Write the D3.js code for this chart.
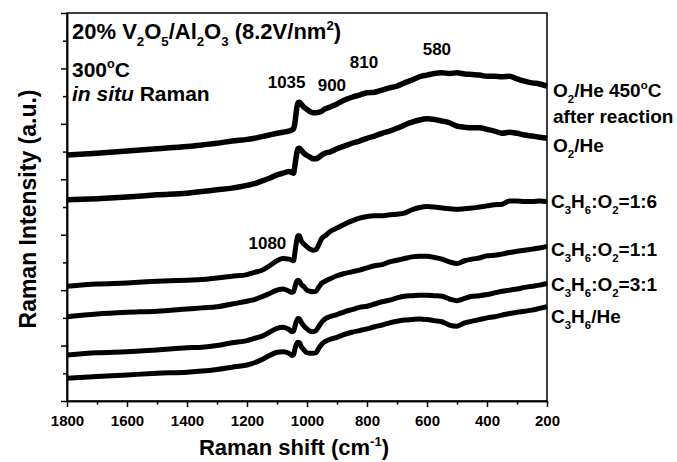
<!DOCTYPE html>
<html><head><meta charset="utf-8">
<script src="https://cdn.jsdelivr.net/npm/d3@7/dist/d3.min.js"></script>
<style>
body{margin:0;background:#fff}
text{font-family:"Liberation Sans",Arial,sans-serif;font-weight:bold;fill:#000;white-space:pre}
</style>
</head><body>
<svg id="chart" width="677" height="462"></svg>
<script>
// Raman shift grid (cm-1)
const shifts=[1800,1700,1600,1500,1400,1350,1300,1250,1200,1175,1150,1125,1100,1080,1060,1050,1045,1040,1035,1030,1025,1020,1010,1000,990,980,970,960,950,940,925,900,875,850,825,800,775,750,725,700,675,650,625,600,575,550,525,500,475,450,425,400,375,350,325,300,275,250,225,200];

// Intensities (a.u., offset stacked)
const o2He450=[4.44,4.47,4.51,4.55,4.59,4.62,4.65,4.69,4.72,4.74,4.77,4.80,4.83,4.85,4.87,4.89,4.91,5.03,5.25,5.38,5.39,5.36,5.30,5.26,5.22,5.20,5.20,5.21,5.23,5.27,5.30,5.36,5.43,5.48,5.52,5.56,5.57,5.61,5.65,5.68,5.74,5.79,5.85,5.88,5.91,5.92,5.91,5.92,5.90,5.89,5.88,5.86,5.86,5.85,5.86,5.81,5.77,5.74,5.72,5.68];
const o2He=[3.63,3.65,3.68,3.72,3.75,3.78,3.81,3.84,3.89,3.92,3.97,4.02,4.08,4.11,4.14,4.12,4.11,4.26,4.44,4.55,4.56,4.53,4.47,4.43,4.40,4.37,4.37,4.40,4.44,4.47,4.49,4.55,4.60,4.65,4.69,4.74,4.78,4.83,4.87,4.92,4.98,5.03,5.07,5.09,5.08,5.05,5.02,4.96,4.94,4.93,4.93,4.90,4.87,4.83,4.85,4.83,4.80,4.78,4.76,4.74];
const c3h6o2_16=[2.07,2.11,2.13,2.16,2.18,2.19,2.22,2.25,2.28,2.32,2.36,2.44,2.53,2.57,2.56,2.54,2.53,2.69,2.87,2.98,2.98,2.90,2.83,2.78,2.74,2.72,2.73,2.83,2.94,2.98,3.05,3.12,3.19,3.25,3.30,3.33,3.34,3.34,3.36,3.37,3.39,3.45,3.49,3.51,3.50,3.48,3.47,3.46,3.47,3.48,3.50,3.52,3.54,3.55,3.61,3.61,3.60,3.60,3.61,3.60];
const c3h6o2_11=[1.52,1.57,1.60,1.62,1.66,1.68,1.70,1.75,1.80,1.83,1.88,1.94,2.00,2.02,1.98,1.96,1.97,2.06,2.15,2.18,2.16,2.11,2.06,2.00,1.98,1.97,1.98,2.06,2.13,2.16,2.20,2.26,2.30,2.33,2.36,2.40,2.44,2.46,2.51,2.54,2.57,2.60,2.61,2.61,2.59,2.56,2.51,2.48,2.53,2.56,2.58,2.62,2.63,2.65,2.68,2.70,2.72,2.74,2.76,2.79];
const c3h6o2_31=[0.83,0.87,0.89,0.92,0.96,0.97,1.00,1.05,1.09,1.13,1.17,1.24,1.31,1.33,1.29,1.25,1.26,1.35,1.44,1.49,1.48,1.43,1.35,1.30,1.26,1.25,1.27,1.35,1.43,1.48,1.52,1.56,1.61,1.65,1.69,1.71,1.75,1.79,1.82,1.86,1.89,1.90,1.91,1.91,1.90,1.89,1.84,1.81,1.85,1.89,1.90,1.92,1.95,1.98,2.00,2.02,2.05,2.07,2.09,2.12];
const c3h6He=[0.41,0.44,0.47,0.50,0.52,0.54,0.57,0.61,0.65,0.69,0.75,0.82,0.88,0.89,0.86,0.82,0.83,0.94,1.03,1.06,1.05,0.99,0.92,0.87,0.86,0.86,0.87,0.96,1.03,1.07,1.11,1.15,1.20,1.24,1.27,1.30,1.34,1.37,1.41,1.44,1.46,1.47,1.48,1.47,1.45,1.43,1.37,1.35,1.41,1.44,1.47,1.50,1.52,1.55,1.58,1.60,1.62,1.64,1.67,1.70];

const xMajor=[1800,1600,1400,1200,1000,800,600,400,200];
const xMinor=[1700,1500,1300,1100,900,700,500,300];
const yMajor=[0,1,2,3,4,5,6,7];
const yMinor=[0.5,1.5,2.5,3.5,4.5,5.5,6.5];
const peakLabels=[["1035",1068,5.64],["900",917,5.6],["810",810,6.0],["580",567,6.24],["1080",1132,2.74]];

const W=677,H=462,M={l:67,r:130,t:13,b:61};
const svg=d3.select("#chart");
const x=d3.scaleLinear().domain([1800,200]).range([M.l,W-M.r]);
const y=d3.scaleLinear().domain([0,7]).range([H-M.b,M.t]);

function rich(g,px,py,parts,size,anchor){
  const t=g.append("text").attr("x",px).attr("y",py).attr("font-size",size).attr("text-anchor",anchor||"start");
  let cur=0;
  parts.forEach(([s,k])=>{
    const target=k==="sub"?size*0.32:k==="sup"?-size*0.42:0;
    const ts=t.append("tspan").text(s).attr("dy",target-cur);
    cur=target;
    if(k==="sub"||k==="sup")ts.attr("font-size",size*0.6);
    if(k==="it")ts.attr("font-style","italic");
  });
  return t;
}

// curves
const line=d3.line().x((d,i)=>x(shifts[i])).y(d=>y(d)).curve(d3.curveMonotoneX);
const series=[[o2He450,5.5],[o2He,5.5],[c3h6o2_16,5],[c3h6o2_11,5],[c3h6o2_31,5],[c3h6He,5]];
series.forEach(([vals,sw])=>{
  svg.append("path").datum(vals).attr("d",line).attr("fill","none").attr("stroke","#000")
    .attr("stroke-width",sw).attr("stroke-linejoin","round");
});

// axes
const gx=svg.append("g").attr("transform",`translate(0,${y(0)})`)
  .call(d3.axisBottom(x).tickValues(xMajor).tickSize(6).tickSizeOuter(0).tickPadding(8).tickFormat(d3.format("d")));
gx.selectAll("text").attr("font-size",15).attr("font-family",null);
svg.append("g").attr("transform",`translate(0,${y(0)})`)
  .call(d3.axisBottom(x).tickValues(xMinor).tickSize(3.5).tickSizeOuter(0).tickFormat(""));
svg.append("g").attr("transform",`translate(${x(1800)},0)`)
  .call(d3.axisLeft(y).tickValues(yMajor).tickSize(6).tickSizeOuter(0).tickFormat(""));
svg.append("g").attr("transform",`translate(${x(1800)},0)`)
  .call(d3.axisLeft(y).tickValues(yMinor).tickSize(4).tickSizeOuter(0).tickFormat(""));
svg.selectAll(".domain,.tick line").attr("stroke","#000").attr("stroke-width",1.5);
svg.append("rect").attr("x",x(1800)).attr("y",y(7)).attr("width",x(200)-x(1800)).attr("height",y(0)-y(7))
  .attr("fill","none").attr("stroke","#000").attr("stroke-width",1.5);

// axis titles
rich(svg,294,455,[["Raman shift (cm"],["-1","sup"],[")"]],22,"middle");
rich(svg.append("g").attr("transform","translate(36,209) rotate(-90)"),0,0,[["Raman Intensity (a.u.)"]],23,"middle");

// header text
rich(svg,72,39,[["20% V"],["2","sub"],["O"],["5","sub"],["/Al"],["2","sub"],["O"],["3","sub"],[" (8.2V/nm"],["2","sup"],[")"]],22);
rich(svg,72,77,[["300"],["o","sup"],["C"]],21);
rich(svg,72,101,[["in situ","it"],[" Raman"]],21);

// peak labels
peakLabels.forEach(([t,wx,wy])=>rich(svg,x(wx),y(wy),[[t]],17,"middle"));

// right labels
const lx=x(200)+5;
rich(svg,lx+1,97,[["O"],["2","sub"],["/He 450"],["o","sup"],["C"]],19);
rich(svg,lx+1,123,[["after reaction"]],19);
rich(svg,lx+1,152,[["O"],["2","sub"],["/He"]],19);
rich(svg,lx-1,208,[["C"],["3","sub"],["H"],["6","sub"],[":O"],["2","sub"],["=1:6"]],19);
rich(svg,lx-1,256,[["C"],["3","sub"],["H"],["6","sub"],[":O"],["2","sub"],["=1:1"]],19);
rich(svg,lx-1,291,[["C"],["3","sub"],["H"],["6","sub"],[":O"],["2","sub"],["=3:1"]],19);
rich(svg,lx-1,323,[["C"],["3","sub"],["H"],["6","sub"],["/He"]],19);
</script>
</body></html>
